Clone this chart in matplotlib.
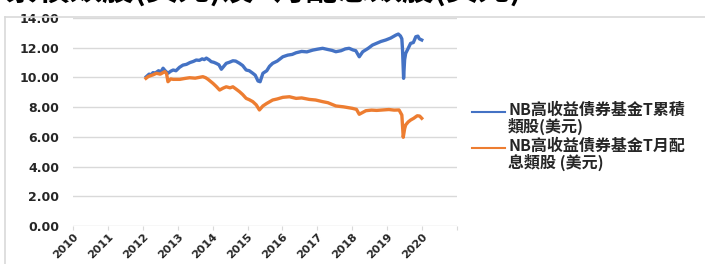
import matplotlib.pyplot as plt
from matplotlib.lines import Line2D

plt.rcParams['font.family'] = ['Noto Sans CJK TC', 'DejaVu Sans']

# series labels
acc_label = "NB高收益債券基金T累積\n類股(美元)"
dist_label = "NB高收益債券基金T月配\n息類股 (美元)"
title = "NB高收益債券基金T累積類股(美元)及T月配息類股(美元)"

# x in decimal years, values in USD
acc_x = [2012.10, 2012.18, 2012.24, 2012.29, 2012.36, 2012.45, 2012.52, 2012.58, 2012.64,
         2012.72, 2012.80, 2012.87, 2012.95, 2013.05, 2013.15, 2013.25, 2013.35, 2013.45,
         2013.53, 2013.62, 2013.70, 2013.76, 2013.82, 2013.90, 2013.96, 2014.03, 2014.10,
         2014.18, 2014.25, 2014.32, 2014.39, 2014.48, 2014.58, 2014.66, 2014.77, 2014.86,
         2014.96, 2015.05, 2015.15, 2015.22, 2015.30, 2015.36, 2015.44, 2015.55, 2015.63,
         2015.72, 2015.85, 2016.01, 2016.15, 2016.28, 2016.39, 2016.55, 2016.70, 2016.87,
         2017.00, 2017.15, 2017.30, 2017.42, 2017.53, 2017.68, 2017.80, 2017.91, 2018.02,
         2018.10, 2018.20, 2018.30, 2018.45, 2018.58, 2018.70, 2018.82, 2018.96, 2019.10,
         2019.25, 2019.32, 2019.38, 2019.42, 2019.44, 2019.47, 2019.50, 2019.53, 2019.60,
         2019.67, 2019.75, 2019.82, 2019.88, 2019.92, 2019.99]
acc_y = [10.05, 10.22, 10.18, 10.32, 10.30, 10.45, 10.38, 10.62, 10.45,
         10.28, 10.42, 10.50, 10.45, 10.68, 10.83, 10.88, 11.00, 11.08,
         11.17, 11.15, 11.25, 11.20, 11.30, 11.18, 11.06, 11.02, 10.95,
         10.85, 10.55, 10.75, 10.95, 11.02, 11.12, 11.10, 10.95, 10.80,
         10.50, 10.45, 10.28, 10.15, 9.76, 9.71, 10.28, 10.45, 10.75,
         10.95, 11.10, 11.39, 11.50, 11.55, 11.66, 11.75, 11.72, 11.84,
         11.90, 11.96, 11.88, 11.82, 11.73, 11.80, 11.92, 11.96, 11.85,
         11.80, 11.39, 11.73, 11.95, 12.18, 12.30, 12.42, 12.52, 12.65,
         12.85, 12.92, 12.79, 12.60, 11.84, 9.94, 11.20, 11.62, 11.95,
         12.29, 12.35, 12.74, 12.78, 12.60, 12.52]

dist_x = [2012.09, 2012.15, 2012.20, 2012.30, 2012.39, 2012.50, 2012.63, 2012.68, 2012.72,
          2012.80, 2012.87, 2013.06, 2013.20, 2013.34, 2013.50, 2013.72, 2013.80, 2013.87,
          2014.01, 2014.10, 2014.20, 2014.30, 2014.39, 2014.50, 2014.58, 2014.68, 2014.77,
          2014.86, 2014.96, 2015.05, 2015.15, 2015.25, 2015.34, 2015.44, 2015.55, 2015.72,
          2015.85, 2016.01, 2016.20, 2016.39, 2016.55, 2016.77, 2016.95, 2017.15, 2017.30,
          2017.53, 2017.75, 2018.00, 2018.12, 2018.20, 2018.39, 2018.55, 2018.70, 2018.87,
          2019.05, 2019.20, 2019.34, 2019.42, 2019.46, 2019.50, 2019.53, 2019.60, 2019.67,
          2019.76, 2019.86, 2019.93, 2019.99]
dist_y = [9.94, 10.05, 10.10, 10.18, 10.28, 10.22, 10.39, 10.25, 9.71,
          9.90, 9.87, 9.87, 9.93, 9.98, 9.95, 10.05, 9.98, 9.87,
          9.60, 9.40, 9.15, 9.28, 9.37, 9.30, 9.37, 9.20, 9.04,
          8.85, 8.59, 8.50, 8.37, 8.15, 7.81, 8.08, 8.25, 8.48,
          8.55, 8.66, 8.70, 8.59, 8.62, 8.52, 8.48, 8.37, 8.30,
          8.08, 8.02, 7.92, 7.85, 7.52, 7.76, 7.80, 7.78, 7.81,
          7.84, 7.80, 7.81, 7.47, 5.97, 6.55, 6.80, 7.00, 7.13,
          7.25, 7.42, 7.40, 7.25]

years = list(range(2010, 2021))
yticks = [0, 2, 4, 6, 8, 10, 12, 14]

blue = '#4472C4'
orange = '#ED7D31'
grid = '#D9D9D9'

fig = plt.figure(figsize=(7.05, 2.64), dpi=100)
ax = fig.add_axes([73 / 705, 1 - 226 / 264, 384 / 705, 208 / 264])

ax.plot(acc_x, acc_y, color=blue, lw=2.4, solid_joinstyle='round')
ax.plot(dist_x, dist_y, color=orange, lw=2.4, solid_joinstyle='round')

ax.set_xlim(2010, 2021)
ax.set_ylim(0, 14)
ax.set_yticks(yticks)
ax.set_yticklabels(['%.2f' % v for v in yticks], fontsize=9, fontweight='bold',
                   color='#262626', family='DejaVu Sans')
ax.set_xticks(years + [2021])
ax.set_xticklabels([str(y) for y in years] + [''], fontsize=8, fontweight='bold',
                   color='#262626', family='DejaVu Sans', rotation=45, ha='right',
                   rotation_mode='anchor')
ax.grid(axis='y', color=grid, lw=1)
ax.tick_params(axis='y', length=0, pad=10)
ax.tick_params(axis='x', length=3, color=grid, pad=1)
for s in ax.spines.values():
    s.set_visible(False)
ax.set_axisbelow(True)

# outer chart frame (partly cropped)
fig.add_artist(Line2D([5 / 705, 5 / 705], [0, 1 - 17 / 264], color=grid, lw=1.2))
fig.add_artist(Line2D([5 / 705, 1], [1 - 17 / 264, 1 - 17 / 264], color=grid, lw=1.2))

# title, cropped at the top edge
fig.text(522 / 705, 1 - 7 / 264, title, fontsize=23, fontweight='bold', ha='right',
         va='bottom', color='black')

# legend
for lab, col, yy in [(acc_label, blue, 112), (dist_label, orange, 148)]:
    fig.add_artist(Line2D([472 / 705, 505 / 705], [1 - yy / 264] * 2, color=col, lw=1.5))
    fig.text(508 / 705, 1 - (yy - 10) / 264, lab, fontsize=11.5, fontweight='bold',
             ha='left', va='top', color='#262626', linespacing=1.0)

fig.savefig('out.png', dpi=100)
